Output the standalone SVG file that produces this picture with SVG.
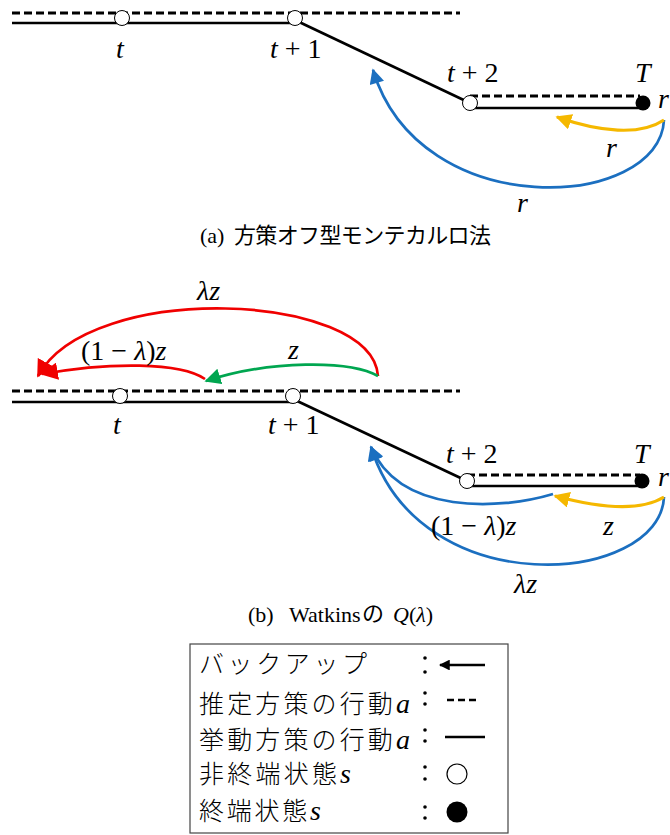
<svg xmlns="http://www.w3.org/2000/svg" width="670" height="835" viewBox="0 0 670 835">
<defs>
<style>
.dash{stroke:#000;stroke-width:3;stroke-dasharray:8,4;fill:none}
.sol{stroke:#000;stroke-width:2.7;fill:none}
.open{fill:#fff;stroke:#000;stroke-width:1}
.term{fill:#000}
.m{font-family:"Liberation Serif",serif;font-style:italic;font-size:28px;fill:#000}
.u{font-style:normal}
.cap{font-family:"Liberation Serif",serif;font-size:22px;fill:#000}
.jp{font-family:"Noto Sans CJK JP",sans-serif}
.leg{font-family:"Noto Sans CJK JP",sans-serif;font-size:25px;font-weight:300;fill:#000}
.lm{font-family:"Liberation Serif",serif;font-style:italic;font-size:28px;font-weight:normal}
.blue{stroke:#1B6FC0;stroke-width:2.7;fill:none}
.yel{stroke:#F5B800;stroke-width:3.2;fill:none}
.red{stroke:#F00000;stroke-width:2.7;fill:none}
.grn{stroke:#00A650;stroke-width:2.7;fill:none}
</style>
<marker id="hb" viewBox="0 0 10 10" refX="9" refY="5" markerWidth="6" markerHeight="5.5" markerUnits="strokeWidth" orient="auto"><path d="M0,0L10,5L0,10z" fill="#1B6FC0"/></marker>
<marker id="hy" viewBox="0 0 10 10" refX="9" refY="5" markerWidth="5" markerHeight="5" markerUnits="strokeWidth" orient="auto"><path d="M0,0L10,5L0,10z" fill="#F5B800"/></marker>
<marker id="hr" viewBox="0 0 10 10" refX="9" refY="5" markerWidth="6.5" markerHeight="6.5" markerUnits="strokeWidth" orient="auto"><path d="M0,0L10,5L0,10z" fill="#F00000"/></marker>
<marker id="hg" viewBox="0 0 10 10" refX="9" refY="5" markerWidth="6" markerHeight="6" markerUnits="strokeWidth" orient="auto"><path d="M0,0L10,5L0,10z" fill="#00A650"/></marker>
<marker id="hk" viewBox="0 0 10 10" refX="9" refY="5" markerWidth="4" markerHeight="4" markerUnits="strokeWidth" orient="auto"><path d="M0,0L10,5L0,10z" fill="#000"/></marker>
</defs>
<rect width="670" height="835" fill="#fff"/>

<!-- (a) -->
<g id="connectors-a">
<line class="dash" x1="12" y1="13" x2="460" y2="13"/>
<line class="sol" x1="12" y1="23" x2="295" y2="23"/>
<line class="sol" x1="297" y1="21" x2="470" y2="103"/>
<line class="dash" x1="470" y1="96" x2="640" y2="96"/>
<line class="sol" x1="470" y1="108" x2="640" y2="108"/>
<path class="blue" d="M664,120 C660,210 420,225 373,70" marker-end="url(#hb)"/>
<path class="yel" d="M664,120 C640,136 600,132 557,117" marker-end="url(#hy)"/>
</g>
<g id="a-t"><circle class="open" cx="122" cy="18" r="7.5"/><text class="m" x="116" y="58">t</text></g>
<g id="a-t1"><circle class="open" cx="295" cy="18" r="7.5"/><text class="m" x="270" y="58">t<tspan class="u"> + 1</tspan></text></g>
<g id="a-t2"><circle class="open" cx="470" cy="103" r="7.5"/><text class="m" x="447" y="82">t<tspan class="u"> + 2</tspan></text></g>
<g id="a-T"><circle class="term" cx="643" cy="103" r="7.5"/><text class="m" x="635" y="82">T</text><text class="m" x="658" y="108">r</text></g>
<text class="m" x="606" y="157">r</text>
<text class="m" x="517" y="212">r</text>
<text class="cap" x="200" y="243" font-size="21">(a)</text>
<text class="cap jp" x="234" y="243" font-size="21" textLength="257" lengthAdjust="spacing">方策オフ型モンテカルロ法</text>

<!-- (b) -->
<g id="connectors-b">
<line class="dash" x1="12" y1="391" x2="460" y2="391"/>
<line class="sol" x1="12" y1="402" x2="293" y2="402"/>
<line class="sol" x1="295" y1="400" x2="467" y2="481"/>
<line class="dash" x1="467" y1="475" x2="640" y2="475"/>
<line class="sol" x1="467" y1="486" x2="640" y2="486"/>
<path class="red" d="M378,376 C372,292 90,280 38,376" marker-end="url(#hr)"/>
<path class="red" d="M205,379 C180,362 110,362 42,374" marker-end="url(#hr)"/>
<path class="grn" d="M378,376 C350,360 270,360 206,381" marker-end="url(#hg)"/>
<path class="blue" d="M664,497 C660,585 420,605 371,447" marker-end="url(#hb)"/>
<path class="blue" d="M553,494 C500,510 400,515 371,447" marker-end="url(#hb)"/>
<path class="yel" d="M664,497 C640,512 600,508 555,496" marker-end="url(#hy)"/>
</g>
<g id="b-t"><circle class="open" cx="120" cy="396" r="7.5"/><text class="m" x="113" y="434">t</text></g>
<g id="b-t1"><circle class="open" cx="293" cy="396" r="7.5"/><text class="m" x="268" y="434">t<tspan class="u"> + 1</tspan></text></g>
<g id="b-t2"><circle class="open" cx="467" cy="481" r="7.5"/><text class="m" x="446" y="463">t<tspan class="u"> + 2</tspan></text></g>
<g id="b-T"><circle class="term" cx="642" cy="481" r="7.5"/><text class="m" x="634" y="463">T</text><text class="m" x="658" y="486">r</text></g>
<text class="m" x="197" y="300">λz</text>
<text class="m" x="81" y="360"><tspan class="u">(1 − </tspan>λ<tspan class="u">)</tspan>z</text>
<text class="m" x="288" y="359">z</text>
<text class="m" x="431" y="535"><tspan class="u">(1 − </tspan>λ<tspan class="u">)</tspan>z</text>
<text class="m" x="603" y="535">z</text>
<text class="m" x="514" y="593">λz</text>
<text class="cap" x="248" y="622">(b)</text>
<text class="cap" x="289" y="622">Watkins</text>
<text class="cap jp" x="362" y="621" font-size="19">の</text>
<text class="cap" x="393" y="622" font-size="23"><tspan font-style="italic">Q</tspan>(<tspan font-style="italic">λ</tspan>)</text>

<!-- legend -->
<g id="legend">
<rect x="190" y="644" width="318" height="189" fill="#fff" stroke="#444" stroke-width="1.2"/>
<text class="leg" x="199" y="673" textLength="168" lengthAdjust="spacing">バックアップ</text>
<text class="leg" x="199" y="713" textLength="211" lengthAdjust="spacing">推定方策の行動<tspan class="lm">a</tspan></text>
<text class="leg" x="199" y="749" textLength="211" lengthAdjust="spacing">挙動方策の行動<tspan class="lm">a</tspan></text>
<text class="leg" x="199" y="783" textLength="152" lengthAdjust="spacing">非終端状態<tspan class="lm">s</tspan></text>
<text class="leg" x="199" y="820" textLength="122" lengthAdjust="spacing">終端状態<tspan class="lm">s</tspan></text>
<g fill="#000"><circle cx="425" cy="658" r="1.8"/><circle cx="425" cy="672" r="1.8"/>
<circle cx="425" cy="693" r="1.8"/><circle cx="425" cy="704" r="1.8"/>
<circle cx="425" cy="730" r="1.8"/><circle cx="425" cy="741" r="1.8"/>
<circle cx="425" cy="767" r="1.8"/><circle cx="425" cy="779" r="1.8"/>
<circle cx="425" cy="807" r="1.8"/><circle cx="425" cy="818" r="1.8"/></g>
<line class="sol" x1="485" y1="665" x2="440" y2="665" marker-end="url(#hk)"/>
<line class="sol" stroke-dasharray="7,4" x1="447" y1="700" x2="480" y2="700"/>
<line class="sol" x1="445" y1="737" x2="485" y2="737"/>
<circle cx="457" cy="774" r="10" fill="#fff" stroke="#000" stroke-width="1.2"/>
<circle cx="457" cy="812" r="10.5" fill="#000"/>
</g>
</svg>
